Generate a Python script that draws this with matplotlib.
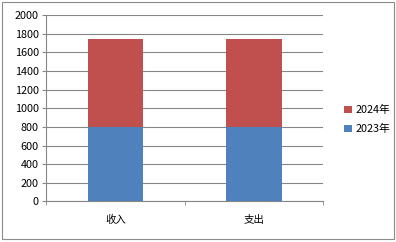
import matplotlib
matplotlib.use('Agg')
import matplotlib.pyplot as plt
from matplotlib.patches import Rectangle

plt.rcParams['font.family'] = ['Noto Sans CJK SC', 'DejaVu Sans']

# data
categories = ['收入', '支出']
series_names = ['2023年', '2024年']
values_2023 = [800, 800]
values_2024 = [950, 950]
colors = ['#4F81BD', '#C0504D']

fig = plt.figure(figsize=(3.96, 2.42), dpi=100)
fig.patches.append(Rectangle((0.006, 0.012), 0.988, 0.978, transform=fig.transFigure,
                             fill=False, edgecolor='#8c8c8c', linewidth=0.8))
ax = fig.add_axes([0.116, 0.168, 0.700, 0.769])

x = [0, 1]
ax.bar(x, values_2023, width=0.4, color=colors[0], label=series_names[0], zorder=3)
ax.bar(x, values_2024, width=0.4, bottom=values_2023, color=colors[1],
       label=series_names[1], zorder=3)

ax.set_xlim(-0.5, 1.5)
ax.set_ylim(0, 2000)
ax.set_yticks(range(0, 2001, 200))
ax.set_xticks(x)
ax.set_xticklabels(categories, fontsize=7.5)
ax.tick_params(axis='y', labelsize=7.8, length=3, color='#868686', pad=2)
ax.tick_params(axis='x', length=0, pad=10)
ax.set_xticks([-0.5, 0.5, 1.5], minor=True)
ax.tick_params(axis='x', which='minor', length=3, color='#868686')

ax.grid(axis='y', color='#868686', linewidth=0.8, zorder=0)
for s in ['top', 'right']:
    ax.spines[s].set_visible(False)
ax.spines['left'].set_color('#868686')
ax.spines['bottom'].set_color('#868686')

handles, labels = ax.get_legend_handles_labels()
fig.legend(handles[::-1], labels[::-1], loc='center left', bbox_to_anchor=(0.845, 0.505),
           frameon=False, fontsize=7.8, handlelength=0.7, handleheight=0.7,
           handletextpad=0.3, labelspacing=0.8)

fig.savefig('out.png', dpi=100)
